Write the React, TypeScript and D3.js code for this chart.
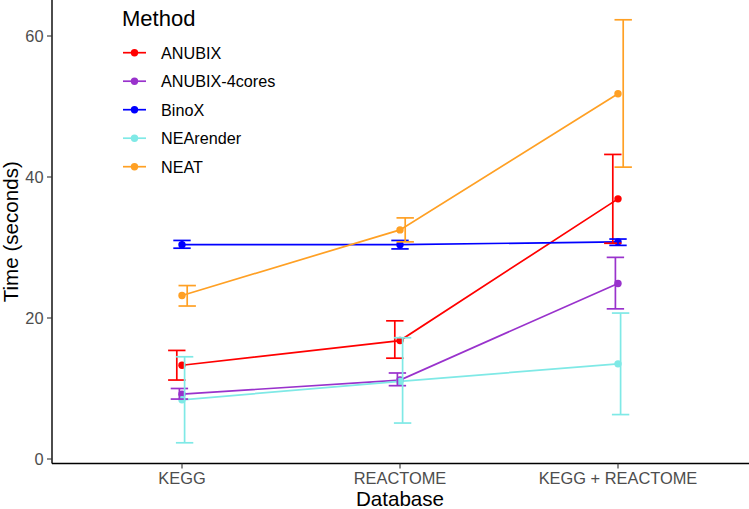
import React from "react";
import * as d3 from "d3";

const categories = ["KEGG", "REACTOME", "KEGG + REACTOME"];
const methods = ["ANUBIX", "ANUBIX-4cores", "BinoX", "NEArender", "NEAT"];
const colors = ["#FF0000", "#9932CC", "#0000FF", "#7FE9E6", "#FFA024"];

// mean, lower, upper per category for each method
const anubixMean = [13.3, 16.8, 36.9];
const anubixLow = [11.2, 14.3, 30.6];
const anubixHigh = [15.4, 19.6, 43.2];

const anubix4Mean = [9.2, 11.2, 24.9];
const anubix4Low = [8.5, 10.4, 21.3];
const anubix4High = [10.0, 12.2, 28.6];

const binoxMean = [30.4, 30.4, 30.8];
const binoxLow = [29.9, 29.8, 30.3];
const binoxHigh = [31.0, 31.0, 31.2];

const nearenderMean = [8.4, 11.0, 13.5];
const nearenderLow = [2.3, 5.1, 6.3];
const nearenderHigh = [14.5, 17.2, 20.7];

const neatMean = [23.2, 32.5, 51.8];
const neatLow = [21.7, 30.8, 41.4];
const neatHigh = [24.6, 34.2, 62.3];

const yTicks = [0, 20, 40, 60];

const series = [
  { mean: anubixMean, low: anubixLow, high: anubixHigh },
  { mean: anubix4Mean, low: anubix4Low, high: anubix4High },
  { mean: binoxMean, low: binoxLow, high: binoxHigh },
  { mean: nearenderMean, low: nearenderLow, high: nearenderHigh },
  { mean: neatMean, low: neatLow, high: neatHigh },
];

const W = 749;
const H = 509;
const panelLeft = 52;
const panelRight = 749;
const panelBottom = 463.5;

export default function App() {
  const x = d3.scalePoint<string>().domain(categories).range([182, 618]);
  const y = d3.scaleLinear().domain([0, 60]).range([459, 36]);
  const dodge = 2.6;
  const capHalf = 8.7;
  const font = "'Liberation Sans', Arial, Helvetica, sans-serif";
  const line = d3
    .line<number>()
    .x((_, i) => x(categories[i]) as number)
    .y((d) => y(d));

  return (
    <svg
      width={W}
      height={H}
      style={{ position: "absolute", left: 0, top: 0, background: "#fff" }}
      fontFamily={font}
    >
      <rect x={0} y={0} width={W} height={H} fill="#fff" />
      {/* lines */}
      {series.map((s, k) => (
        <path key={"l" + k} d={line(s.mean) || ""} fill="none" stroke={colors[k]} strokeWidth={1.7} />
      ))}
      {/* points */}
      {series.map((s, k) =>
        s.mean.map((v, i) => (
          <circle key={"p" + k + i} cx={x(categories[i])} cy={y(v)} r={3.7} fill={colors[k]} />
        ))
      )}
      {/* error bars */}
      {series.map((s, k) =>
        s.mean.map((_, i) => {
          const cx = (x(categories[i]) as number) + (k - 2) * dodge;
          const yl = y(s.low[i]);
          const yh = y(s.high[i]);
          return (
            <g key={"e" + k + i} stroke={colors[k]} strokeWidth={1.7} fill="none">
              <line x1={cx} x2={cx} y1={yl} y2={yh} />
              <line x1={cx - capHalf} x2={cx + capHalf} y1={yl} y2={yl} />
              <line x1={cx - capHalf} x2={cx + capHalf} y1={yh} y2={yh} />
            </g>
          );
        })
      )}
      {/* axes */}
      <line x1={panelLeft} x2={panelLeft} y1={0} y2={panelBottom} stroke="#000" strokeWidth={1.4} />
      <line x1={panelLeft} x2={panelRight} y1={panelBottom} y2={panelBottom} stroke="#000" strokeWidth={1.4} />
      {yTicks.map((t) => (
        <g key={"yt" + t}>
          <line x1={panelLeft - 5} x2={panelLeft} y1={y(t)} y2={y(t)} stroke="#333" strokeWidth={1.1} />
          <text x={43.5} y={y(t)} dy="0.36em" textAnchor="end" fontSize={16.4} fill="#4D4D4D">
            {t}
          </text>
        </g>
      ))}
      {categories.map((c) => (
        <g key={"xt" + c}>
          <line x1={x(c)} x2={x(c)} y1={panelBottom} y2={panelBottom + 5} stroke="#333" strokeWidth={1.1} />
          <text x={x(c)} y={484} textAnchor="middle" fontSize={16.4} fill="#4D4D4D">
            {c}
          </text>
        </g>
      ))}
      <text x={400} y={505.5} textAnchor="middle" fontSize={20.6} fill="#000">
        Database
      </text>
      <text
        transform={`translate(17.5, ${(0 + panelBottom) / 2}) rotate(-90)`}
        textAnchor="middle"
        fontSize={20.6}
        fill="#000"
      >
        Time (seconds)
      </text>
      {/* legend */}
      <text x={122} y={26} fontSize={22} fill="#000">
        Method
      </text>
      {methods.map((m, k) => {
        const ly = 52.7 + k * 28.5;
        return (
          <g key={"lg" + m}>
            <line x1={123} x2={146} y1={ly} y2={ly} stroke={colors[k]} strokeWidth={1.7} />
            <circle cx={134.5} cy={ly} r={3.7} fill={colors[k]} />
            <text x={161} y={ly} dy="0.36em" fontSize={16.2} fill="#000">
              {m}
            </text>
          </g>
        );
      })}
    </svg>
  );
}
